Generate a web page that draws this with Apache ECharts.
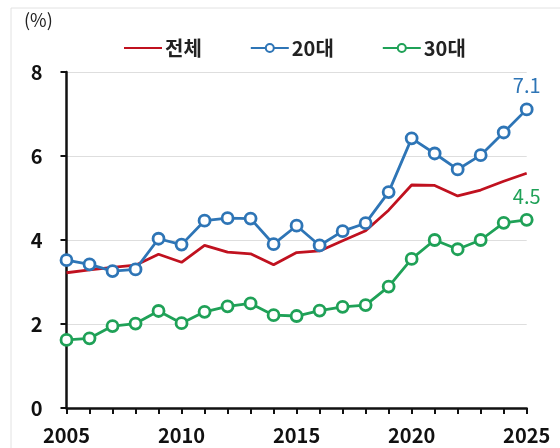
<!DOCTYPE html>
<html><head><meta charset="utf-8">
<script src="https://cdn.jsdelivr.net/npm/echarts@6/dist/echarts.min.js"></script>
<style>html,body{margin:0;padding:0;background:#fff}#c{width:560px;height:448px}</style>
</head><body><div id="c"></div>
<script>
const years = [2005,2006,2007,2008,2009,2010,2011,2012,2013,2014,2015,2016,2017,2018,2019,2020,2021,2022,2023,2024,2025];
const total = [3.22,3.29,3.35,3.40,3.66,3.47,3.87,3.71,3.67,3.41,3.70,3.74,3.98,4.22,4.71,5.31,5.30,5.05,5.19,5.40,5.59];
const age20 = [3.52,3.42,3.26,3.30,4.03,3.89,4.46,4.52,4.51,3.90,4.34,3.87,4.21,4.40,5.14,6.42,6.06,5.68,6.02,6.56,7.11];
const age30 = [1.62,1.66,1.95,2.01,2.31,2.02,2.29,2.42,2.49,2.21,2.19,2.32,2.41,2.45,2.89,3.55,4.00,3.78,4.00,4.41,4.48];
const names = ['전체','20대','30대'];
const yTicks = [0,2,4,6,8];
const xLabels = [2005,2010,2015,2020,2025];

const font = '"Noto Sans CJK KR", "Noto Sans", sans-serif';
const cRed = '#c0111f', cBlue = '#2e75b6', cGreen = '#1fa157';
const pairs = a => years.map((y,i)=>[y,a[i]]);
const last = years.length - 1;

const chart = echarts.init(document.getElementById('c'));
chart.setOption({
  animation:false,
  textStyle:{fontFamily:font},
  graphic:[
    {type:'rect', shape:{x:11,y:8,width:560,height:460}, style:{fill:'none', stroke:'#e2e2e2', lineWidth:1}},
    {type:'text', left:24, top:11, style:{text:'(%)', font:'18px '+font, fill:'#222'}}
  ],
  legend:{
    top:33, left:118, itemGap:48, itemWidth:38, itemHeight:10,
    textStyle:{fontFamily:font, fontSize:20, fontWeight:'bold', color:'#222', padding:[0,0,0,-2]},
    data:[{name:names[0], itemStyle:{opacity:0}}, names[1], names[2]]
  },
  grid:{left:66.5, right:33.3, top:72, bottom:40},
  xAxis:{
    type:'value', min:2005, max:2025, interval:1,
    axisLine:{lineStyle:{color:'#111', width:2.5}},
    axisTick:{show:true, length:6, lineStyle:{color:'#111', width:2}},
    splitLine:{show:false},
    axisLabel:{fontFamily:font, fontSize:20, fontWeight:'bold', color:'#111', margin:17,
      formatter:v => xLabels.includes(v) ? String(v) : ''}
  },
  yAxis:{
    type:'value', min:0, max:8, interval:2,
    axisLine:{show:true, lineStyle:{color:'#111', width:2.5}},
    axisTick:{show:true, length:6, lineStyle:{color:'#111', width:2}},
    splitLine:{show:true, lineStyle:{color:'#dedede', width:1}},
    axisLabel:{fontFamily:font, fontSize:20, fontWeight:'bold', color:'#111', margin:24,
      formatter:v => yTicks.includes(v) ? String(v) : ''}
  },
  series:[
    {name:names[0], type:'line', data:pairs(total), symbol:'none', color:cRed,
     lineStyle:{width:2.8, color:cRed}, z:2},
    {name:names[1], type:'line', data:pairs(age20), symbol:'circle', symbolSize:11, color:cBlue,
     lineStyle:{width:2.8, color:cBlue}, itemStyle:{color:'#fff', borderColor:cBlue, borderWidth:2.8}, z:3,
     label:{show:true, position:'top', distance:7, fontFamily:font, fontSize:20, color:cBlue,
       formatter:p => p.dataIndex===last ? p.value[1].toFixed(1) : ''}},
    {name:names[2], type:'line', data:pairs(age30), symbol:'circle', symbolSize:11, color:cGreen,
     lineStyle:{width:2.8, color:cGreen}, itemStyle:{color:'#fff', borderColor:cGreen, borderWidth:2.8}, z:3,
     label:{show:true, position:'top', distance:7, fontFamily:font, fontSize:20, color:cGreen,
       formatter:p => p.dataIndex===last ? p.value[1].toFixed(1) : ''}}
  ]
});
</script></body></html>
